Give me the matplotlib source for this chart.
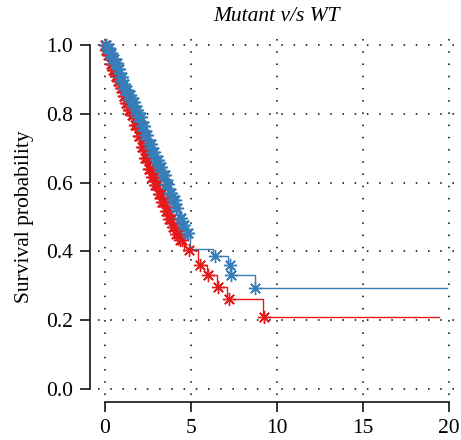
import numpy as np
import matplotlib
matplotlib.use('Agg')
import matplotlib.pyplot as plt

# Kaplan-Meier steps: event times and survival right after each drop
mut_times = [0.05, 0.15, 0.3, 0.45, 0.6, 0.75, 0.9, 1.05, 1.2, 1.35, 1.5, 1.7, 1.9,
             2.1, 2.3, 2.5, 2.7, 2.9, 3.1, 3.3, 3.5, 3.7, 3.9, 4.1, 4.3, 4.6,
             5.4, 5.9, 6.5, 7.1, 9.2]
mut_surv = [0.985, 0.97, 0.945, 0.928, 0.91, 0.895, 0.875, 0.852, 0.83, 0.812, 0.795,
            0.768, 0.735, 0.703, 0.672, 0.64, 0.615, 0.592, 0.568, 0.543, 0.518,
            0.494, 0.47, 0.45, 0.432, 0.404, 0.362, 0.331, 0.298, 0.262, 0.209]
mut_censor = [0.02, 0.08, 0.12, 0.18, 0.22, 0.27, 0.33, 0.38, 0.42, 0.48, 0.53, 0.58,
              0.63, 0.68, 0.72, 0.78, 0.83, 0.88, 0.93, 0.98, 1.02, 1.08, 1.13, 1.18,
              1.23, 1.28, 1.32, 1.38, 1.43, 1.48, 1.55, 1.6, 1.65, 1.72, 1.78, 1.83,
              1.88, 1.95, 2.0, 2.05, 2.13, 2.18, 2.24, 2.33, 2.38, 2.44, 2.53, 2.58,
              2.64, 2.73, 2.78, 2.84, 2.93, 2.98, 3.04, 3.13, 3.18, 3.24, 3.33, 3.38,
              3.44, 3.53, 3.58, 3.64, 3.73, 3.8, 3.86, 3.95, 4.02, 4.14, 4.22, 4.35,
              4.45, 4.9, 5.52, 6.0, 6.59, 7.23, 9.24]
mut_end = 19.4

wt_times = [0.1, 0.25, 0.4, 0.55, 0.7, 0.85, 1.0, 1.15, 1.3, 1.5, 1.7, 1.9, 2.1, 2.3,
            2.5, 2.7, 2.9, 3.1, 3.3, 3.5, 3.7, 3.9, 4.1, 4.3, 4.5, 4.7, 4.95,
            6.3, 7.17, 7.3, 8.7]
wt_surv = [0.99, 0.975, 0.96, 0.948, 0.93, 0.908, 0.885, 0.868, 0.855, 0.835, 0.812,
           0.79, 0.765, 0.737, 0.713, 0.69, 0.665, 0.645, 0.622, 0.595, 0.57, 0.55,
           0.525, 0.497, 0.478, 0.455, 0.406, 0.387, 0.362, 0.333, 0.293]
wt_censor = [0.03, 0.07, 0.13, 0.17, 0.22, 0.28, 0.32, 0.37, 0.43, 0.47, 0.52, 0.58,
             0.62, 0.67, 0.73, 0.77, 0.82, 0.88, 0.92, 0.97, 1.03, 1.07, 1.12, 1.18,
             1.22, 1.27, 1.33, 1.38, 1.43, 1.47, 1.53, 1.58, 1.63, 1.68, 1.74, 1.8,
             1.85, 1.92, 1.97, 2.03, 2.08, 2.15, 2.2, 2.26, 2.34, 2.4, 2.46, 2.55,
             2.6, 2.66, 2.75, 2.8, 2.86, 2.95, 3.0, 3.06, 3.15, 3.2, 3.26, 3.35, 3.4,
             3.46, 3.55, 3.6, 3.66, 3.75, 3.8, 3.86, 3.95, 4.0, 4.06, 4.15, 4.2,
             4.35, 4.4, 4.55, 4.6, 4.75, 4.85, 6.4, 7.25, 7.33, 8.72]
wt_end = 19.9

groups = [('Mutant', mut_times, mut_surv, mut_censor, mut_end, '#E41A1C'),
          ('WT', wt_times, wt_surv, wt_censor, wt_end, '#377EB8')]

plt.rcParams['font.family'] = ['Liberation Serif', 'DejaVu Serif']

fig = plt.figure(figsize=(4.61, 4.40), dpi=100)
ax = fig.add_axes([98 / 461, 45 / 440, 358 / 461, 357 / 440])

star = (8, 2, 0)
for name, t, s, cens, end, col in groups:
    xs = np.array([0] + t + [end])
    ys = np.array([1.0] + s + [s[-1]])
    ax.step(xs, ys, where='post', color=col, lw=1.0, zorder=3)
    # censor marks sit on the curve
    idx = np.searchsorted(xs, cens, side='right') - 1
    ax.plot(cens, ys[idx], ls='none', marker=star, ms=9.5, mew=1.0,
            color=col, zorder=4)

ax.set_xlim(-0.41, 20.41)
ax.set_ylim(-0.017, 1.02)
ax.set_xticks([0, 5, 10, 15, 20])
ax.set_yticks([0.0, 0.2, 0.4, 0.6, 0.8, 1.0])
ax.set_yticklabels(['0.0', '0.2', '0.4', '0.6', '0.8', '1.0'])

ax.grid(True, color='black', ls=(0, (1, 7)), lw=1.1)
ax.set_axisbelow(True)

for side in ['top', 'right']:
    ax.spines[side].set_visible(False)
ax.spines['left'].set_position(('outward', 5.8))
ax.spines['bottom'].set_position(('outward', 5.0))
ax.spines['left'].set_bounds(0, 1)
ax.spines['bottom'].set_bounds(0, 20)
for side in ['left', 'bottom']:
    ax.spines[side].set_linewidth(1.1)
ax.tick_params(axis='both', direction='out', length=7, width=1.1,
               labelsize=15.5, pad=5)

ax.set_ylabel('Survival probability', fontsize=15.5, labelpad=9)
ax.set_title('Mutant v/s WT', fontsize=15.5, style='italic', pad=12)

fig.savefig('out.png', dpi=100)
